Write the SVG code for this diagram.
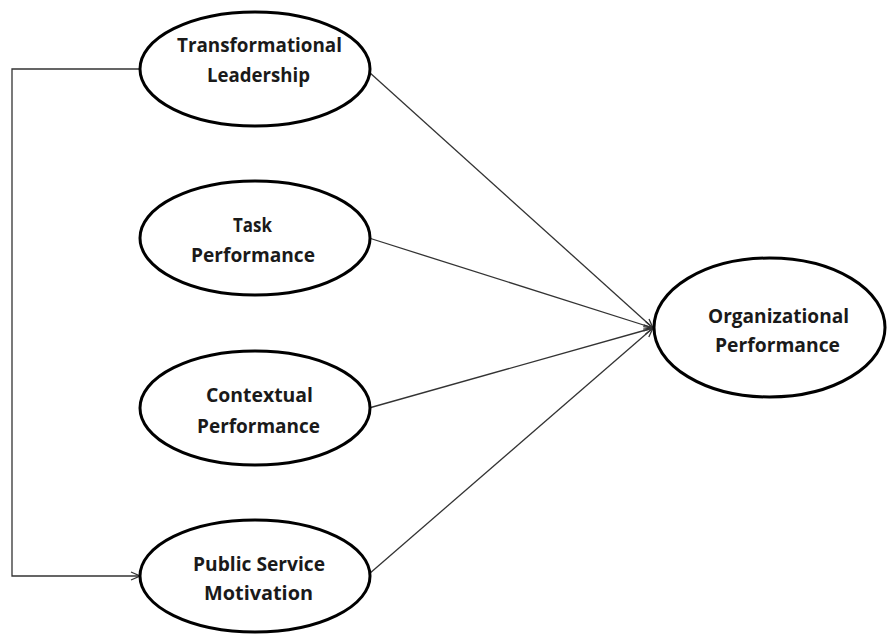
<svg xmlns="http://www.w3.org/2000/svg" width="887" height="634" viewBox="0 0 887 634">
  <style>
    .node ellipse { fill: #ffffff; stroke: #000000; stroke-width: 3; }
    .node text { font-family: "Open Sans", "Noto Sans", "DejaVu Sans", sans-serif; font-weight: 700; font-size: 19px; fill: #1a1a1a; text-anchor: middle; }
    .edge { fill: none; stroke: #333333; stroke-width: 1.3; }
  </style>
  <defs>
    <marker id="arrow" viewBox="0 0 10 10" refX="10" refY="5" markerWidth="10" markerHeight="10" markerUnits="userSpaceOnUse" orient="auto">
      <path d="M1,1 L10,5 L1,9" fill="none" stroke="#333333" stroke-width="1.3"/>
    </marker>
  </defs>
  <rect width="887" height="634" fill="#ffffff"/>

  <g id="connectors">
    <polyline class="edge" points="140,69 12,69 12,576 140,576" marker-end="url(#arrow)"/>
    <line class="edge" x1="369" y1="72" x2="653" y2="328" marker-end="url(#arrow)"/>
    <line class="edge" x1="369" y1="238" x2="653" y2="328" marker-end="url(#arrow)"/>
    <line class="edge" x1="369" y1="408" x2="653" y2="328" marker-end="url(#arrow)"/>
    <line class="edge" x1="369" y1="574" x2="653" y2="328" marker-end="url(#arrow)"/>
  </g>

  <g id="transformational-leadership" class="node">
    <ellipse cx="255" cy="69" rx="115" ry="57"/>
    <text x="259.5" y="52" textLength="165" lengthAdjust="spacingAndGlyphs">Transformational</text>
    <text x="258.5" y="82" textLength="103" lengthAdjust="spacingAndGlyphs">Leadership</text>
  </g>

  <g id="task-performance" class="node">
    <ellipse cx="255" cy="238" rx="115" ry="57"/>
    <text x="252.5" y="232" textLength="39" lengthAdjust="spacingAndGlyphs">Task</text>
    <text x="253" y="262" textLength="124" lengthAdjust="spacingAndGlyphs">Performance</text>
  </g>

  <g id="contextual-performance" class="node">
    <ellipse cx="255" cy="408" rx="115" ry="57"/>
    <text x="259.5" y="402" textLength="107" lengthAdjust="spacingAndGlyphs">Contextual</text>
    <text x="258.5" y="433" textLength="123" lengthAdjust="spacingAndGlyphs">Performance</text>
  </g>

  <g id="public-service-motivation" class="node">
    <ellipse cx="255" cy="576" rx="115" ry="56"/>
    <text x="259" y="571" textLength="132" lengthAdjust="spacingAndGlyphs">Public Service</text>
    <text x="258.5" y="600" textLength="109" lengthAdjust="spacingAndGlyphs">Motivation</text>
  </g>

  <g id="organizational-performance" class="node">
    <ellipse cx="769.5" cy="327.5" rx="115.5" ry="69.5"/>
    <text x="778.5" y="323" textLength="141" lengthAdjust="spacingAndGlyphs">Organizational</text>
    <text x="777.5" y="352" textLength="125" lengthAdjust="spacingAndGlyphs">Performance</text>
  </g>
</svg>
